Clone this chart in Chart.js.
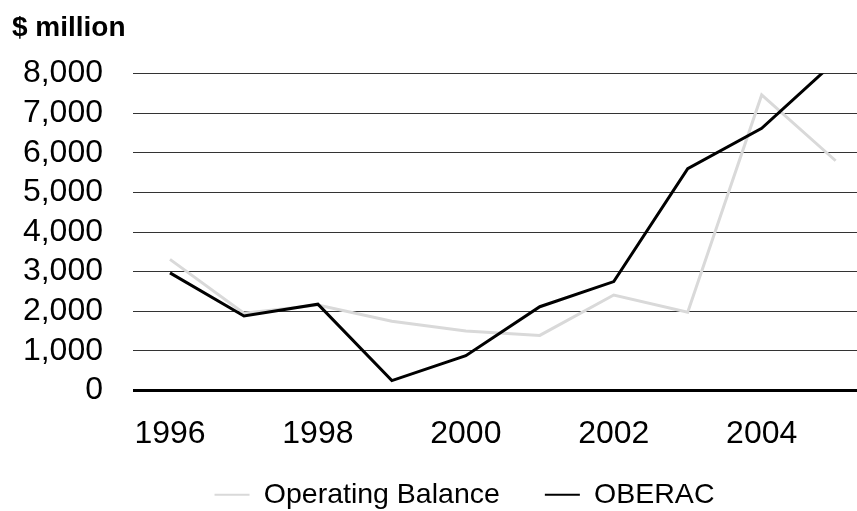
<!DOCTYPE html>
<html><head><meta charset="utf-8">
<script src="https://cdn.jsdelivr.net/npm/chart.js@4"></script>
<style>
html,body{margin:0;padding:0;overflow:hidden;background:#fff;width:857px;height:511px}
#wrap{width:917px;height:519px;position:relative}
canvas{display:block}
</style></head><body>
<div id="wrap"><canvas id="c" width="917" height="519"></canvas></div>
<script>
const years = [1996, 1997, 1998, 1999, 2000, 2001, 2002, 2003, 2004, 2005];
const xTickYears = [1996, 1998, 2000, 2002, 2004];
const operatingBalance = [3310, 1950, 2160, 1750, 1500, 1390, 2410, 1975, 7460, 5800];
const oberac = [2970, 1880, 2180, 250, 880, 2115, 2750, 5600, 6620, 8320];
const yTicks = [0, 1000, 2000, 3000, 4000, 5000, 6000, 7000, 8000];
const seriesNames = ['Operating Balance', 'OBERAC'];

const FONT = "'Liberation Sans', Arial, sans-serif";
const toXY = vals => years.map((y, i) => ({x: y, y: vals[i]}));

new Chart(document.getElementById('c'), {
  type: 'line',
  data: {
    datasets: [
      {label: seriesNames[0], data: toXY(operatingBalance), borderColor: '#d9d9d9', backgroundColor: '#d9d9d9',
       borderWidth: 3, pointRadius: 0, tension: 0, order: 1, clip: 0},
      {label: seriesNames[1], data: toXY(oberac), borderColor: '#000000', backgroundColor: '#000000',
       borderWidth: 3, pointRadius: 0, tension: 0, order: 0, clip: 0}
    ]
  },
  options: {
    responsive: false,
    animation: false,
    devicePixelRatio: 1,
    layout: {padding: {left: 12, right: 0, top: 0, bottom: 0}},
    plugins: {
      tooltip: {enabled: false},
      title: {display: true, text: '$ million', align: 'start', color: '#000',
              font: {family: FONT, size: 28, weight: 'bold'}, padding: {top: 11, bottom: 29}},
      legend: {position: 'bottom', align: 'center',
        labels: {boxWidth: 35, boxHeight: 2, padding: 45, color: '#000',
                 font: {family: FONT, size: 28.5},
                 generateLabels: chart => Chart.defaults.plugins.legend.labels.generateLabels(chart)
                   .map(l => Object.assign(l, {lineWidth: 0})),
                 sort: (a, b) => a.datasetIndex - b.datasetIndex}}
    },
    scales: {
      x: {
        type: 'linear', min: 1995.5, max: 2006.1,
        grid: {display: false, drawTicks: false},
        border: {display: false},
        beforeUpdate: s => { s._computeLabelArea = () => undefined; },
        afterBuildTicks: s => { s.ticks = xTickYears.map(v => ({value: v})); },
        afterFit: s => { s.height = 45; },
        ticks: {padding: 24, color: '#000', font: {family: FONT, size: 32},
                callback: v => String(v), maxRotation: 0, autoSkip: false}
      },
      y: {
        min: 0, max: 8000,
        afterBuildTicks: s => { s.ticks = yTicks.map(v => ({value: v})); },
        afterFit: s => { s.width = 121; },
        grid: {drawTicks: false,
               color: c => c.tick && c.tick.value === 0 ? '#000' : '#333',
               lineWidth: c => c.tick && c.tick.value === 0 ? 3 : 1},
        border: {display: false},
        ticks: {padding: 30, color: '#000', font: {family: FONT, size: 32}, autoSkip: false,
                callback: v => v.toLocaleString('en-US')}
      }
    }
  }
});
</script>
</body></html>
